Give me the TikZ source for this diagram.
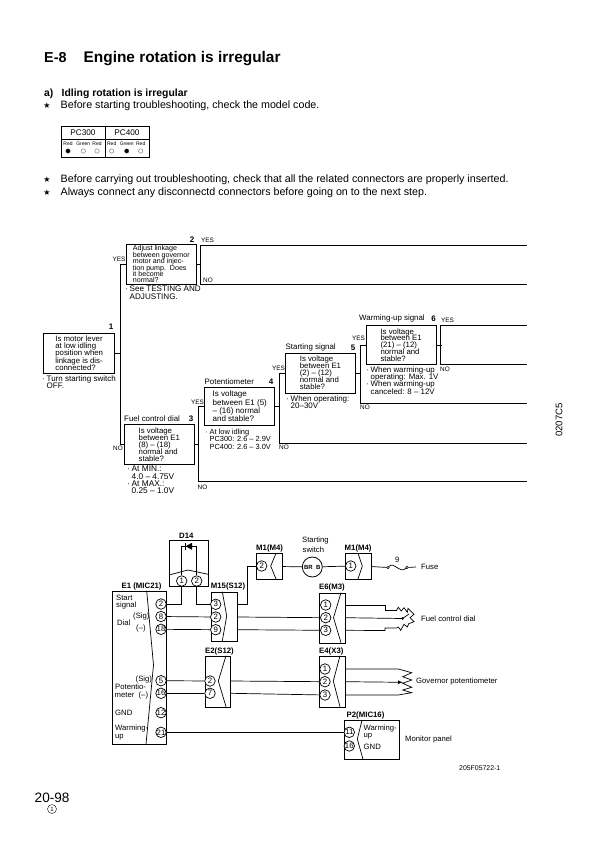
\documentclass[tikz,border=0pt]{standalone}
\usepackage{fontspec}
\usepackage{xcolor}
\usepackage{tikz}
\setmainfont{Liberation Sans}
\newfontfamily\symfont{DejaVu Sans}
\setlength{\lineskiplimit}{-20pt}
\newcommand{\blt}{\makebox[4.5pt][l]{\textperiodcentered}}
\tikzset{
  qbox/.style={draw,line width=0.9pt,anchor=north west,align=left,inner sep=0pt,font=\fontsize{7.8}{7}\selectfont},
  lbl/.style={anchor=west,inner sep=0pt,font=\fontsize{7.9}{8}\selectfont},
  ans/.style={anchor=west,inner sep=0pt,font=\fontsize{6.4}{7}\selectfont},
  stepno/.style={anchor=center,inner sep=0pt,font=\fontsize{8}{8}\selectfont\bfseries},
  note/.style={anchor=north west,align=left,inner sep=0pt,font=\fontsize{8}{7.1}\selectfont},
  unitbox/.style={draw,line width=0.8pt,anchor=north west,inner sep=0pt},
  unittitle/.style={anchor=west,inner sep=0pt,font=\fontsize{7.8}{8}\selectfont\bfseries},
  pincirc/.style={draw,circle,line width=0.7pt,fill=white,minimum size=10.5pt,inner sep=0pt,font=\fontsize{7.8}{8}\selectfont},
  wire/.style={line width=0.7pt},
  small/.style={anchor=west,inner sep=0pt,align=left,font=\fontsize{7.7}{8}\selectfont},
  bodytext/.style={anchor=west,inner sep=0pt,font=\fontsize{10.7}{11}\selectfont},
  starmark/.style={inner sep=0pt,font=\symfont\fontsize{8}{8}\selectfont}
}
\begin{document}
\begin{tikzpicture}[x=1pt,y=-1pt]
  \useasboundingbox (0,0) rectangle (595,842);
  % headings
  \node[anchor=west,inner sep=0pt,font=\fontsize{14.4}{16}\selectfont\bfseries] (secno) at (44,58) {E-8};
  \node[anchor=west,inner sep=0pt,font=\fontsize{15.4}{16}\selectfont\bfseries] (title) at (83.5,59) {Engine rotation is irregular};
  \node[bodytext,font=\fontsize{10.4}{11}\selectfont\bfseries] (suba) at (44,93.5) {a)};
  \node[bodytext,font=\fontsize{10.4}{11}\selectfont\bfseries] (subtitle) at (61.5,93.5) {Idling rotation is irregular};
  \foreach \nm/\y/\tx in {s1/106/Before starting troubleshooting{,} check the model code.,
                          s2/180/Before carrying out troubleshooting{,} check that all the related connectors are properly inserted.,
                          s3/193/Always connect any disconnectd connectors before going on to the next step.}{
    \node[starmark] (\nm) at (47,\y) {★};
    \node[bodytext] (\nm t) at (60.5,\y) {\tx};
  }
  % model code table
  \node[draw,line width=0.7pt,anchor=north west,minimum width=88,minimum height=31.5,inner sep=0pt] (codetab) at (61,125.7) {};
  \draw[line width=0.7pt] (61,139) -- (149,139);
  \draw[line width=0.7pt] (105.3,125.7) -- (105.3,157.2);
  \node[font=\fontsize{8.2}{8}\selectfont,inner sep=0pt] (pc3) at (83,132.5) {PC300};
  \node[font=\fontsize{8.2}{8}\selectfont,inner sep=0pt] (pc4) at (127,132.5) {PC400};
  \foreach \i/\x/\c/\st in {1/68/Red/black,2/83.3/Green/white,3/97/Red/white,
                            4/111.7/Red/white,5/126.7/Green/black,6/140.7/Red/white}{
    \node[font=\fontsize{5}{5}\selectfont,inner sep=0pt] (col\i) at (\x,144) {\c};
    \node[draw=black!70,circle,fill=\st,minimum size=4.4pt,inner sep=0pt,line width=0.3pt] (led\i) at (\x,151) {};
  }
  % troubleshooting tree
  \node[qbox,minimum width=71,minimum height=40,font=\fontsize{7.8}{7.1}\selectfont] (q1) at (43.3,332.7) {Is motor lever\\at low idling\\position when\\linkage is dis-\\connected?};
  \node[qbox,minimum width=69.7,minimum height=39.7,font=\fontsize{7.1}{6.4}\selectfont] (q2) at (126,244) {Adjust linkage\\between governor\\motor and injec-\\tion pump.\ \ Does\\it become\\normal?};
  \node[qbox,minimum width=70.3,minimum height=39.7] (q3) at (123.7,424) {Is voltage\\between E1\\(8) -- (18)\\normal and\\stable?};
  \node[qbox,minimum width=70,minimum height=38.3,font=\fontsize{8}{8.3}\selectfont] (q4) at (204.3,386.7) {Is voltage\\between E1 (5)\\-- (16) normal\\and stable?};
  \node[qbox,minimum width=70,minimum height=40] (q5) at (285,352.7) {Is voltage\\between E1\\(2) -- (12)\\normal and\\stable?};
  \node[qbox,minimum width=70,minimum height=39,font=\fontsize{7.8}{6.8}\selectfont] (q6) at (365.7,325) {Is voltage\\between E1\\(21) -- (12)\\normal and\\stable?};
  \coordinate (no2) at (527,284);
  \coordinate (yes2) at (527,245);
  \coordinate (no3) at (527,481);
  \coordinate (no4) at (527,443.5);
  \coordinate (no5) at (527,403.5);
  \coordinate (yes6) at (527,325);
  \coordinate (no6) at (527,364.6);
  \begin{scope}[line width=0.9pt]
    \draw (q1.east) -- ++(5.7,0);
    \draw (q2.west) -- ++(-6,0) |- (q3.west);
    \draw (q2.east) -- ++(4.6,0);
    \draw (yes2) -| (200.3,264) |- (no2);
    \draw (q3.east) -- ++(4.3,0);
    \draw (q4.west) -- ++(-6,0) |- (no3);
    \draw (q4.east) -- ++(5.2,0);
    \draw (q5.west) -- ++(-5.5,0) |- (no4);
    \draw (q5.east) -- ++(5,0);
    \draw (q6.west) -- ++(-5.7,0) |- (no5);
    \draw (q6.east) -- ++(5,0);
    \draw (yes6) -| (440.7,344.5) |- (no6);
  \end{scope}
  \foreach \nm/\x/\y/\tx in {n1/111/327/1,n2/192/240/2,n3/191/419/3,n4/271/382/4,n5/353/348/5,n6/433.5/318.5/6}{
    \node[stepno] (\nm) at (\x,\y) {\tx};
  }
  \foreach \nm/\x/\y/\tx in {yb/201/240/YES,na/203/280/NO,ya/112.5/259.5/YES,nb/113/448/NO,
                             yc/191/402/YES,nc/197.5/487/NO,yd/272/368/YES,nd/279/447.5/NO,
                             ye/352/338/YES,ne/360/407.5/NO,yf/441/320.5/YES,nf/440/369/NO}{
    \node[ans] (\nm) at (\x,\y) {\tx};
  }
  \foreach \nm/\x/\y/\tx in {t3/124/419/Fuel control dial,t4/204.5/382/Potentiometer,t5/285.5/347.5/Starting signal,t6/359/318.5/Warming-up signal}{
    \node[lbl] (\nm) at (\x,\y) {\tx};
  }
  \node[note] (c1) at (42,375) {\blt Turn starting switch\\\hspace*{4.5pt}OFF.};
  \node[note,font=\fontsize{8.1}{7.2}\selectfont] (c2) at (125,286) {\blt See TESTING AND\\\hspace*{4.5pt}ADJUSTING.};
  \node[note,font=\fontsize{8.3}{7.1}\selectfont] (c3) at (127,466) {\blt At MIN.:\\\hspace*{4.5pt}4.0 -- 4.75V\\\blt At MAX.:\\\hspace*{4.5pt}0.25 -- 1.0V};
  \node[note,font=\fontsize{7.4}{7.3}\selectfont] (c4) at (205,429) {\blt At low idling\\\hspace*{4.5pt}PC300: 2.6 -- 2.9V\\\hspace*{4.5pt}PC400: 2.6 -- 3.0V};
  \node[note] (c5) at (286,395) {\blt When operating:\\\hspace*{4.5pt}20--30V};
  \node[note,font=\fontsize{7.9}{7.2}\selectfont] (c6) at (366,366.5) {\blt When warming-up\\\hspace*{4.5pt}operating: Max. 1V\\\blt When warming-up\\\hspace*{4.5pt}canceled: 8 -- 12V};
  \node[rotate=90,inner sep=0pt,font=\fontsize{9.6}{10}\selectfont] (figa) at (559,420) {0207C5};
  % wiring
  \node[unitbox,minimum width=54.3,minimum height=153.6] (e1) at (111.7,590.7) {};
  \node[unitbox,minimum width=39.3,minimum height=45.7] (d14) at (169,540) {};
  \node[unitbox,minimum width=26,minimum height=49.3] (m15) at (210.7,591.7) {};
  \node[unitbox,minimum width=26.3,minimum height=25.7] (m1a) at (256,553.3) {};
  \node[unitbox,minimum width=26,minimum height=25.7] (m1b) at (344.7,553.3) {};
  \node[unitbox,minimum width=26,minimum height=50] (e6) at (319,592.7) {};
  \node[unitbox,minimum width=25,minimum height=51] (e2) at (205,655.7) {};
  \node[unitbox,minimum width=26,minimum height=51] (e4) at (319,655.7) {};
  \node[unitbox,minimum width=55.6,minimum height=39] (p2) at (343.7,720.3) {};
  \node[draw,circle,line width=0.8pt,minimum size=20pt,inner sep=0pt,font=\fontsize{6}{6}\selectfont\bfseries] (sw) at (312.3,567) {BR\ \ B};
  % connector seams
  \draw[wire] (146.7,590.7) -- (153.5,665) -- (146,744.3);
  \draw[wire] (169,575) -- (188,570) -- (208.3,574.3);
  \draw[wire] (222.3,591.7) -- (226.7,616) -- (222.3,641);
  \draw[wire] (276,553.3) -- (270.7,566) -- (276,579);
  \draw[wire] (358,553.3) -- (362.3,566) -- (358,579);
  \draw[wire] (341,592.7) -- (333.5,617.7) -- (341,642.7);
  \draw[wire] (226,655.7) -- (218.3,681) -- (226,706.7);
  \draw[wire] (340,655.7) -- (333.3,681) -- (340,706.7);
  \draw[wire] (362,720.3) -- (357.3,739) -- (363,759.3);
  % pins
  \foreach \nm/\val/\x/\y in {a2/2/161/604,a8/8/161/616.5,a18/18/161/629.3,a5/5/161/680.7,a16/16/161/693.3,a12/12/161/712.7,a21/21/161/732.3,
                              da/1/181.7/581,db/2/196.7/581,
                              ma/3/215.7/604.3,mb/2/215.7/617,mc/9/215.7/629.7,
                              ea/2/210/681,eb/7/210/693.3,
                              fa/2/261.7/566,fb/1/350.7/566,
                              ga/1/325.7/605,gb/2/325.7/617.7,gc/3/325.7/630.3,
                              ha/1/325/669,hb/2/325/681.7,hc/3/325/695,
                              pa/11/349.3/732.3,pb/16/349.3/746}{
    \node[pincirc] (\nm) at (\x,\y) {\val};
  }
  % harness
  \draw[wire] (a2) -| (da);
  \draw[wire] (db) |- (ma);
  \draw[wire] (a8) -- (mb);
  \draw[wire] (a18) -- (mc);
  \draw[wire] (a5) -- (ea);
  \draw[wire] (a16) -- (eb);
  \draw[wire] (a21) -- (pa);
  \draw[wire] (m15.east |- ma) -- (247,604.3) |- (fa);
  \draw[wire] (m15.east |- mb) -- (gb);
  \draw[wire] (m15.east |- mc) -- (gc);
  \draw[wire] (e2.east |- ea) -- (hb);
  \draw[wire] (e2.east |- eb) -- (hc);
  \draw[wire] (m1a.east) -- (sw);
  \draw[wire] (sw) -- (fb);
  % diode
  \coordinate (dl) at (181.7,546.3);
  \coordinate (dr) at (196.7,546.3);
  \draw[wire] (da) -- (dl) -- (dr) -- (db);
  \fill (185.5,546.3) -- (192,542.8) -- (192,549.8) -- cycle;
  \draw[line width=1pt] (185.5,542.5) -- (185.5,550);
  % fuse
  \node[draw,circle,fill=white,minimum size=2.4pt,inner sep=0pt,line width=0.5pt] (fu1) at (388,567.5) {};
  \node[draw,circle,fill=white,minimum size=2.4pt,inner sep=0pt,line width=0.5pt] (fu2) at (407,567.5) {};
  \coordinate (fuend) at (416,567);
  \draw[wire] (m1b.east) -- (fu1);
  \draw[wire] (fu1) .. controls (394,561) and (399,574) .. (fu2);
  \draw[wire] (fu2) -- (fuend);
  % fuel control dial
  \draw[wire] (e6.east |- ga) -- (385,605) |- (396.7,610);
  \draw[wire] (e6.east |- gc) -- (385,630.5) |- (396.7,628);
  \draw[wire] (e6.east |- gb) -- (402.5,618.5);
  \fill (402.5,618.5) circle (1.4pt);
  \draw[wire] (402.5,618.5) -- (409,614);
  \draw[wire] (396.7,610) -- (398.3,607.3) -- (401.3,611) -- (404,607.7) -- (407.3,612.3) -- (408,608.3) -- (414,614.3) -- (410,617.7) -- (414,621.7) -- (408.7,623.7) -- (407.3,627) -- (404,624.3) -- (400.7,630.3) -- (398.3,627) -- (396.7,628);
  % governor potentiometer
  \draw[wire] (e4.east |- ha) -- (398.3,669) -- (411.7,672.7) -- (402.7,676.7) -- (411.7,680) -- (402.7,683.3) -- (411.7,687.3) -- (402.7,690) -- (411.7,692.7) -- (398.3,695) -- (e4.east |- hc);
  \draw[wire,-latex] (e4.east |- hb) -- (403,682.3);
  % names
  \foreach \nm/\x/\y/\tx in {te1/121.5/586/E1 (MIC21),tm15/210.7/586/M15(S12),tm1a/256/548.5/M1(M4),tm1b/344.5/548.5/M1(M4),
                             te6/319/587.5/E6(M3),te2/205/651/E2(S12),te4/319/651/E4(X3),tp2/346.5/715/P2(MIC16),td14/179/536/D14}{
    \node[unittitle] (\nm) at (\x,\y) {\tx};
  }
  \foreach \nm/\x/\y/\tx in {i1/116/597.5/Start,i2/116/606/signal,i3/133/617/(Sig),i4/117/623/Dial,i5/136/629/(--),
                             i6/135.5/680/(Sig),i7/115/687/Potentio-,i8/114.5/695/meter\ \ (--),i9/115/712.5/GND,i10/115/729/Warming-,i11/115/737/up,
                             j1/363.5/729/Warming-,j2/363.5/736.5/up,j3/363.5/747/GND,
                             k1/302/541/Starting,k2/302.5/550/switch,
                             k3/421/567/Fuse,k4/421/619/Fuel control dial,k5/416/682/Governor potentiometer,k6/405/740/Monitor panel,k8/395/560/9}{
    \node[small] (\nm) at (\x,\y) {\tx};
  }
  \node[small,font=\fontsize{6.9}{7}\selectfont] (figb) at (459,768) {205F05722-1};
  % page number
  \node[anchor=west,inner sep=0pt,font=\fontsize{13.6}{14}\selectfont] (page) at (34.5,798) {20-98};
  \node[draw,circle,line width=0.4pt,minimum size=9pt,inner sep=0pt,font=\fontsize{6}{6}\selectfont] (rev) at (52,809) {1};
\end{tikzpicture}
\end{document}
